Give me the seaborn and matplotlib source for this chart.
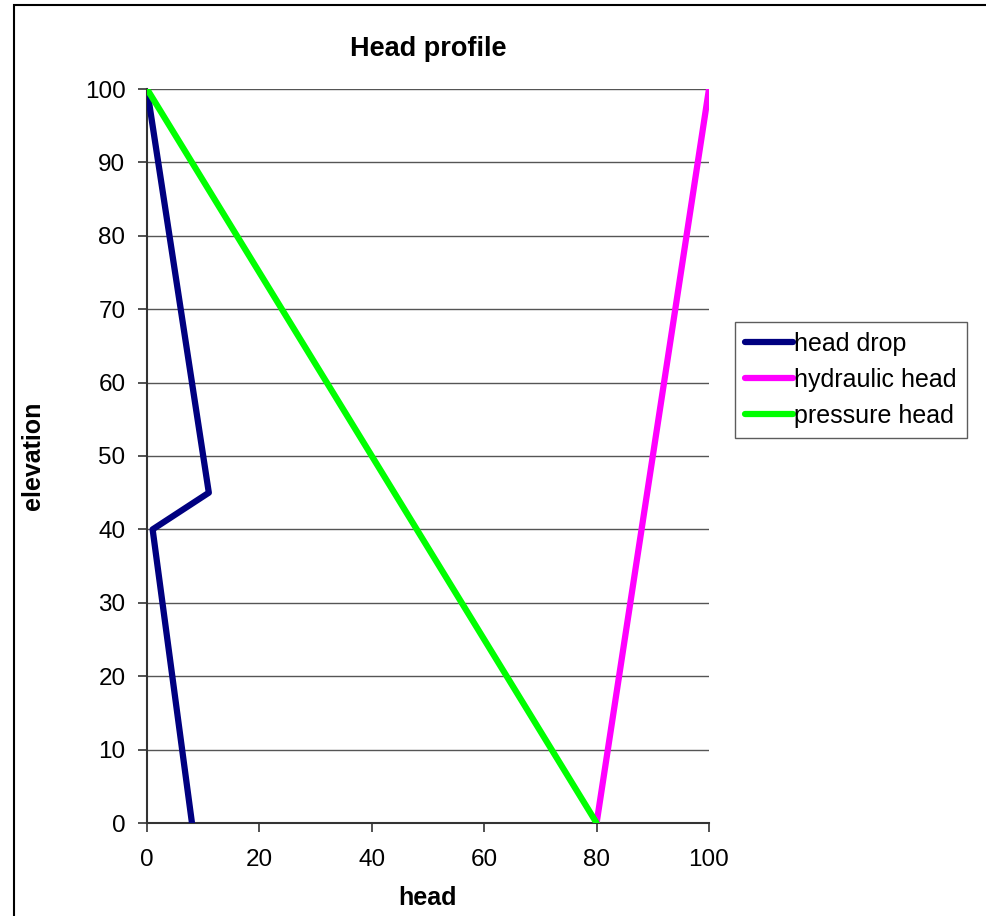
import matplotlib
matplotlib.use("Agg")
import matplotlib.pyplot as plt
import seaborn as sns
import pandas as pd
from matplotlib.patches import Rectangle

series_names = ["head drop", "hydraulic head", "pressure head"]
head_drop_x = [8, 1, 11, 0]
head_drop_y = [0, 40, 45, 100]
hydraulic_x = [80, 100]
hydraulic_y = [0, 100]
pressure_x = [80, 0]
pressure_y = [0, 100]
colors = ["#000080", "#FF00FF", "#00FF00"]
x_ticks = [0, 20, 40, 60, 80, 100]
y_ticks = list(range(0, 101, 10))

rows = []
for name, xs, ys in zip(series_names,
                        [head_drop_x, hydraulic_x, pressure_x],
                        [head_drop_y, hydraulic_y, pressure_y]):
    for i, (xv, yv) in enumerate(zip(xs, ys)):
        rows.append({"series": name, "head": xv, "elevation": yv, "order": i})
df = pd.DataFrame(rows)

sns.set_theme(style="white")
plt.rcParams["font.family"] = ["Liberation Sans", "DejaVu Sans"]
plt.rcParams["text.color"] = "black"

W, H = 986, 916
fig = plt.figure(figsize=(W / 100, H / 100), dpi=100)
ax = fig.add_axes([147 / W, (H - 823) / H, (709 - 147) / W, (823 - 89) / H])

for yt in y_ticks[1:]:
    ax.axhline(yt, color="#555555", lw=1.0, zorder=1)

sns.lineplot(data=df, x="head", y="elevation", hue="series", palette=colors,
             hue_order=series_names, sort=False, estimator=None, units="series",
             lw=4.5, ax=ax, zorder=3, legend=False)

ax.set_xlim(0, 100)
ax.set_ylim(0, 100)
ax.set_xticks(x_ticks)
ax.set_yticks(y_ticks)
ax.tick_params(axis="both", labelsize=17.5, length=6.5, width=1.2, direction="out",
               colors="#333333", labelcolor="black")
ax.tick_params(axis="x", pad=12)
ax.tick_params(axis="y", pad=9)
ax.tick_params(axis="both", which="both", bottom=True, left=True)
for s in ["top", "right"]:
    ax.spines[s].set_visible(False)
for s in ["left", "bottom"]:
    ax.spines[s].set_color("#333333")
    ax.spines[s].set_linewidth(1.5)

ax.set_xlabel("head", fontsize=18, fontweight="bold", color="black")
ax.xaxis.set_label_coords(0.5, -(898 - 823) / 734)
ax.xaxis.label.set_va("center")
ax.set_ylabel("elevation", fontsize=18, fontweight="bold", color="black")
ax.yaxis.set_label_coords((33 - 147) / 562, 0.5)
ax.yaxis.label.set_va("center")
ax.yaxis.label.set_ha("center")
ax.set_title("Head profile", fontsize=19.5, fontweight="bold", color="black",
             y=(823 - 57) / 734, va="center")

handles = [plt.Line2D([], [], color=c, lw=4.5) for c in colors]
leg = fig.legend(handles, series_names, loc="upper left",
                 bbox_to_anchor=(735 / W, 1 - 322 / H), fontsize=18,
                 frameon=True, fancybox=False, edgecolor="#333333",
                 handlelength=1.9, handletextpad=0.08, borderpad=0.4,
                 labelspacing=0.47, borderaxespad=0)
leg.get_frame().set_linewidth(1.0)
for t in leg.get_texts():
    t.set_color("black")

fig.patches.append(Rectangle((14 / W, -0.1), 1.2, (H - 5) / H + 0.1,
                             transform=fig.transFigure, fill=False,
                             edgecolor="black", lw=1.5))

fig.savefig("out.png", dpi=100)
